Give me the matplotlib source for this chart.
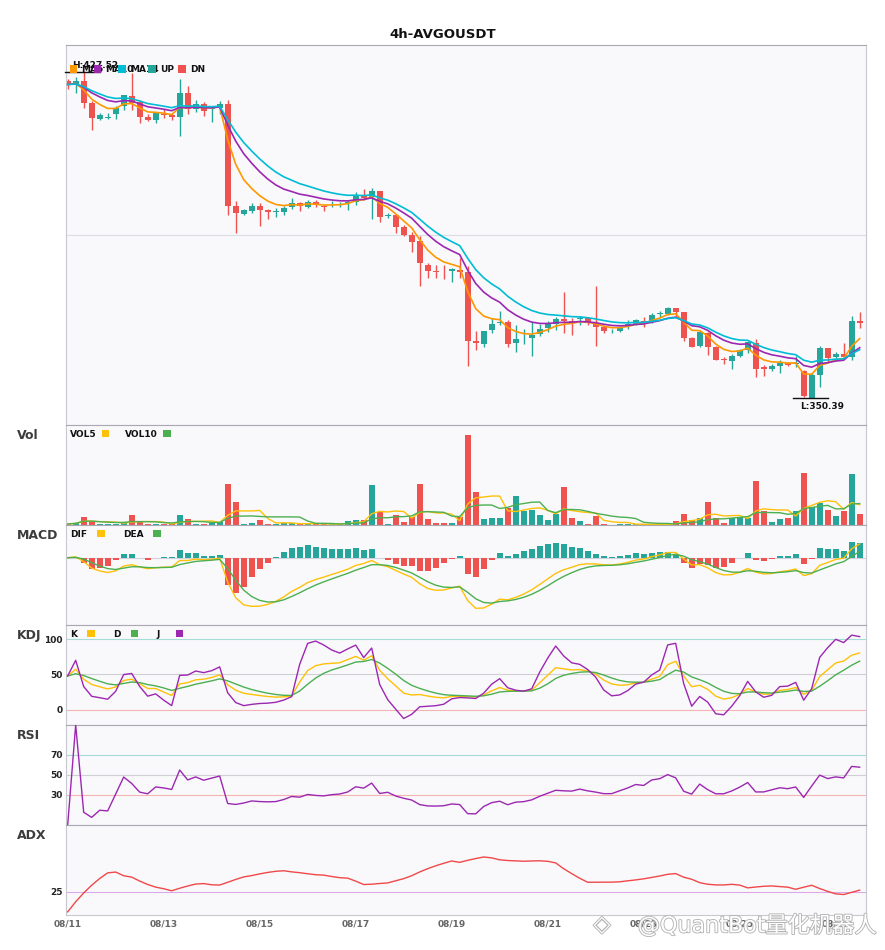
import numpy as np
import pandas as pd
import matplotlib
matplotlib.use("Agg")
import matplotlib.pyplot as plt
from matplotlib.patches import Rectangle
import matplotlib.patheffects as pe

plt.rcParams['font.family'] = ['DejaVu Sans', 'Noto Sans CJK SC']

title = "4h-AVGOUSDT"
times = pd.date_range("2025-08-11 00:00", periods=100, freq="4h")

opens = [425.3, 424.5, 425.3, 420.2, 416.3, 416.6, 417.4, 419.4, 421.8, 420.4,
         416.9, 416.1, 417.6, 417.3, 416.9, 422.6, 418.6, 419.8, 418.6, 418.9,
         419.9, 395.8, 393.9, 394.6, 395.7, 394.8, 394.3, 394.3, 395.4, 396.4,
         395.6, 396.8, 395.8, 395.9, 396.0, 396.4, 396.8, 398.4, 397.9, 399.3,
         393.3, 393.6, 390.8, 388.9, 387.5, 381.9, 380.4, 380.4, 380.3, 380.6,
         380.2, 363.8, 363.2, 366.3, 368.0, 368.2, 363.4, 364.4, 364.6, 365.4,
         366.8, 367.8, 369.0, 368.6, 369.0, 369.2, 367.8, 367.2, 366.1, 366.2,
         367.6, 367.8, 368.6, 368.4, 370.1, 370.1, 371.7, 370.6, 364.4, 362.6,
         365.6, 362.3, 359.4, 359.1, 360.3, 361.7, 363.3, 357.7, 357.1, 357.9,
         358.7, 358.3, 356.6, 350.4, 355.8, 362.2, 359.9, 360.8, 360.1, 368.5]
highs = [425.7, 426.2, 427.52, 420.6, 417.7, 417.8, 419.4, 422.0, 427.2, 420.8,
         417.4, 417.8, 418.7, 417.7, 425.7, 424.1, 420.8, 420.4, 419.4, 420.6,
         420.8, 396.9, 395.0, 396.4, 396.4, 395.0, 395.2, 395.7, 397.6, 396.8,
         397.2, 397.2, 396.1, 396.9, 396.8, 397.2, 399.1, 399.8, 400.1, 399.3,
         394.0, 393.6, 391.3, 389.7, 388.6, 382.2, 381.8, 381.8, 381.0, 383.5,
         381.6, 366.2, 366.2, 369.2, 371.0, 368.8, 367.6, 366.6, 368.3, 367.8,
         368.5, 369.6, 375.5, 369.2, 369.7, 369.3, 376.8, 367.2, 366.6, 367.3,
         368.8, 368.9, 369.6, 370.4, 371.0, 371.9, 371.7, 370.6, 364.7, 366.4,
         366.0, 362.6, 359.9, 360.7, 361.8, 363.8, 364.2, 358.1, 358.4, 359.2,
         358.9, 360.3, 357.0, 356.2, 362.6, 362.2, 361.1, 363.4, 369.7, 370.7]
lows = [423.4, 422.4, 418.9, 413.7, 416.0, 416.3, 416.3, 418.5, 418.5, 415.5,
        415.9, 415.5, 416.6, 416.0, 412.3, 417.5, 418.1, 417.1, 415.7, 417.5,
        393.5, 389.4, 393.5, 394.0, 390.9, 392.7, 393.2, 393.6, 395.1, 394.6,
        395.2, 395.4, 394.6, 395.4, 395.6, 394.8, 396.0, 397.2, 392.7, 392.0,
        392.8, 389.3, 388.6, 384.9, 376.9, 378.6, 378.6, 378.5, 377.8, 378.6,
        358.0, 361.7, 362.5, 365.8, 367.6, 362.5, 361.3, 363.0, 360.3, 365.0,
        366.0, 366.4, 365.6, 365.2, 367.6, 367.6, 362.6, 365.6, 365.8, 366.0,
        366.6, 367.6, 367.0, 368.0, 369.6, 370.0, 369.6, 363.9, 362.3, 362.5,
        360.5, 359.3, 358.4, 357.2, 360.1, 361.0, 355.4, 355.5, 356.7, 356.2,
        357.9, 357.7, 350.5, 350.39, 353.0, 358.9, 359.7, 359.7, 359.3, 366.8]
closes = [424.5, 425.3, 420.2, 416.6, 417.3, 416.9, 418.9, 422.0, 420.2, 416.9,
          416.1, 417.7, 417.3, 416.7, 422.6, 418.6, 419.8, 418.3, 419.1, 419.9,
          395.8, 394.0, 394.7, 395.7, 394.8, 394.4, 394.5, 395.3, 396.5, 395.8,
          396.8, 396.0, 395.6, 396.0, 396.2, 396.8, 398.4, 397.7, 399.3, 393.2,
          393.6, 390.8, 388.9, 387.3, 382.2, 380.4, 380.2, 380.3, 380.8, 380.2,
          363.9, 363.3, 366.2, 367.8, 368.4, 363.2, 364.3, 364.5, 365.2, 366.6,
          367.8, 369.0, 368.6, 368.4, 369.1, 368.0, 367.2, 366.2, 366.2, 367.0,
          367.8, 368.8, 368.4, 370.0, 370.4, 371.7, 370.6, 364.4, 362.5, 366.0,
          362.5, 359.3, 359.3, 360.3, 361.7, 363.5, 357.1, 357.1, 357.9, 358.7,
          358.1, 358.7, 350.8, 355.8, 362.2, 359.7, 360.8, 360.1, 368.5, 368.0]
volumes = [1.0, 2.3, 8.0, 4.3, 1.0, 0.5, 0.5, 3.3, 10.0, 2.7,
           0.7, 0.5, 0.5, 1.0, 10.0, 6.0, 0.7, 1.3, 2.3, 2.7,
           41.0, 23.3, 1.0, 2.3, 5.3, 1.3, 0.5, 1.7, 1.7, 1.3,
           1.3, 0.7, 0.7, 0.5, 1.0, 4.3, 5.3, 5.3, 40.3, 13.0,
           1.3, 10.0, 2.7, 7.7, 41.3, 6.3, 2.3, 2.3, 2.3, 7.7,
           90.3, 33.3, 6.3, 7.3, 7.3, 17.0, 29.3, 13.7, 15.3, 10.3,
           5.3, 11.3, 38.3, 7.3, 4.3, 1.3, 9.3, 1.3, 0.3, 0.7,
           1.3, 0.7, 0.7, 0.3, 0.3, 0.7, 4.3, 11.3, 5.3, 7.3,
           22.7, 7.3, 2.3, 7.3, 8.3, 7.3, 44.3, 13.7, 3.3, 6.3,
           7.3, 14.3, 52.3, 17.7, 21.7, 15.3, 9.3, 14.3, 51.3, 11.3]

ma_periods = [5, 10, 14]
ma_colors = ['#ff9800', '#9c27b0', '#00bcd4']
UP, DN = '#26a69a', '#ef5350'
YEL, GRN, PUR = '#ffc107', '#4caf50', '#9c27b0'

o = np.array(opens); h = np.array(highs); l = np.array(lows); c = np.array(closes)
v = np.array(volumes)
n = len(c)
xs = np.arange(n)
close = pd.Series(c)
up_mask = c >= o
colors = np.where(up_mask, UP, DN)

# ---------- indicators (derived from the OHLCV lists) ----------
mas = [close.ewm(span=p, adjust=False).mean() for p in ma_periods]
vol = pd.Series(v)
vol5 = vol.rolling(5, min_periods=1).mean()
vol10 = vol.rolling(10, min_periods=1).mean()

dif = close.ewm(span=6, adjust=False).mean() - close.ewm(span=13, adjust=False).mean()
dea = dif.ewm(span=4, adjust=False).mean()
hist = 2 * (dif - dea)

low_n = pd.Series(l).rolling(9, min_periods=1).min()
high_n = pd.Series(h).rolling(9, min_periods=1).max()
rsv = ((close - low_n) / (high_n - low_n) * 100).fillna(50)
K = rsv.ewm(com=2, adjust=False).mean()
D = K.ewm(com=2, adjust=False).mean()
J = 3 * K - 2 * D

diff = close.diff()
gain = diff.clip(lower=0)
loss = -diff.clip(upper=0)
ag = gain.ewm(com=13, adjust=True).mean()
al = loss.ewm(com=13, adjust=True).mean()
rsi = (100 - 100 / (1 + ag / al)).fillna(0)

hs, ls = pd.Series(h), pd.Series(l)
prev_c = close.shift(1)
tr = pd.concat([hs - ls, (hs - prev_c).abs(), (ls - prev_c).abs()], axis=1).max(axis=1)
upm = hs.diff(); dnm = -ls.diff()
pdm = pd.Series(np.where((upm > dnm) & (upm > 0), upm, 0.0))
mdm = pd.Series(np.where((dnm > upm) & (dnm > 0), dnm, 0.0))
ADX_P = 8
atr = tr.ewm(alpha=1 / ADX_P, adjust=False).mean()
pdi = 100 * pdm.ewm(alpha=1 / ADX_P, adjust=False).mean() / atr
mdi = 100 * mdm.ewm(alpha=1 / ADX_P, adjust=False).mean() / atr
dx = (100 * (pdi - mdi).abs() / (pdi + mdi)).fillna(0)
adx = dx.ewm(alpha=1 / ADX_P, adjust=False).mean()

# ---------- layout ----------
W, H = 885, 950
L_PX, R_PX = 66, 866
fig = plt.figure(figsize=(W / 100, H / 100), dpi=100)
fig.patch.set_facecolor('white')


def add_panel(top, bottom):
    ax = fig.add_axes([L_PX / W, 1 - bottom / H, (R_PX - L_PX) / W, (bottom - top) / H])
    ax.set_facecolor('#f9f9fc')
    for s in ax.spines.values():
        s.set_color('#c8c8d0'); s.set_linewidth(0.8)
    ax.spines['top'].set_color('#a9a9b1')
    ax.set_xlim(-0.21, n - 0.21)
    ax.set_xticks([]); ax.set_yticks([])
    ax.tick_params(length=0)
    ax._pxbox = (top, bottom)
    return ax


def sq(ax, x_px, yc_px, color, z):
    top, bottom = ax._pxbox
    hh = bottom - top
    ax.add_patch(Rectangle(((x_px - L_PX) / 800, (bottom - yc_px - 3.65) / hh), 7.3 / 800, 7.3 / hh,
                           transform=ax.transAxes, facecolor=color, edgecolor='none',
                           zorder=z, clip_on=False))


def txt(ax, x_px, yb_px, s, z):
    top, bottom = ax._pxbox
    hh = bottom - top
    ax.text((x_px - L_PX) / 800, (bottom - yb_px) / hh, s, transform=ax.transAxes,
            fontsize=6.5, fontweight='bold', color='#111111', ha='left', va='baseline', zorder=z)


def ylabels(ax, ticks):
    ax.set_yticks(ticks)
    ax.set_yticklabels([str(t) for t in ticks])
    ax.tick_params(axis='y', length=0, pad=2.5, labelsize=6.5, labelcolor='#222222')
    for lb in ax.get_yticklabels():
        lb.set_fontweight('bold')


ax_p = add_panel(45, 425)
ax_v = add_panel(425, 525)
ax_m = add_panel(525, 625)
ax_k = add_panel(625, 725)
ax_r = add_panel(725, 825)
ax_a = add_panel(825, 915)

# ---------- price ----------
ax_p.vlines(xs, l, h, colors=colors, lw=1.0, zorder=2)
ax_p.bar(xs, np.maximum(np.abs(c - o), 0.15), bottom=np.minimum(o, c), width=0.72,
         color=colors, linewidth=0, zorder=2.5)
for m, col in zip(mas, ma_colors):
    ax_p.plot(xs, m, color=col, lw=1.2, zorder=3)
rng = h.max() - l.min()
p_lo, p_hi = l.min() - 0.0838 * rng, h.max() + 0.082 * rng
ax_p.set_ylim(p_lo, p_hi)
ax_p.axhline((p_lo + p_hi) / 2, color='#dcdce4', lw=0.8, zorder=1)

ih, il = int(np.argmax(h)), int(np.argmin(l))
ax_p.plot([ih - 2.3, ih + 2.0], [h[ih], h[ih]], color='#111111', lw=1.0, zorder=6, clip_on=False)
ax_p.annotate(f"H:{h[ih]:.2f}", (ih - 1.4, h[ih]), xytext=(0, 2.6), textcoords='offset points',
              fontsize=6.5, fontweight='bold', color='#111111', ha='left', va='baseline', zorder=6)
ax_p.plot([il - 2.3, il + 2.0], [l[il], l[il]], color='#111111', lw=1.0, zorder=6, clip_on=False)
ax_p.annotate(f"L:{l[il]:.2f}", (il - 1.4, l[il]), xytext=(0, -3.0), textcoords='offset points',
              fontsize=6.5, fontweight='bold', color='#111111', ha='left', va='top', zorder=6)

leg_items = [(f"MA{p}", col) for p, col in zip(ma_periods, ma_colors)] + [("UP", UP), ("DN", DN)]
leg_x = [70, 94, 118.3, 148.3, 178.3]
for k, ((lab, col), xp) in enumerate(zip(leg_items, leg_x)):
    txt(ax_p, xp + 11.5, 72.3, lab, 20 + 2 * k)
    sq(ax_p, xp, 69, col, 21 + 2 * k)

# ---------- volume ----------
ax_v.bar(xs, v, width=0.72, color=colors, linewidth=0, zorder=2)
ax_v.plot(xs, vol5, color=YEL, lw=1.0, zorder=3)
ax_v.plot(xs, vol10, color=GRN, lw=1.0, zorder=3)
ax_v.set_ylim(0, v.max() * 1.107)
txt(ax_v, 70, 437, "VOL5", 20); sq(ax_v, 101.7, 433.7, YEL, 21)
txt(ax_v, 125, 437, "VOL10", 20); sq(ax_v, 163.3, 433.7, GRN, 21)

# ---------- MACD ----------
ax_m.axhline(0, color='#d2d2da', lw=0.8, zorder=1)
ax_m.bar(xs, hist, width=0.72, color=np.where(hist >= 0, UP, DN), linewidth=0, zorder=2)
ax_m.plot(xs, dif, color=YEL, lw=1.0, zorder=3)
ax_m.plot(xs, dea, color=GRN, lw=1.0, zorder=3)
mn = min(dif.min(), dea.min(), hist.min())
ax_m.set_ylim(mn * 67.3 / 50.6, -mn * 32.7 / 50.6)
txt(ax_m, 70, 537, "DIF", 20); sq(ax_m, 97.3, 533.7, YEL, 21)
txt(ax_m, 123.3, 537, "DEA", 20); sq(ax_m, 153.3, 533.7, GRN, 21)

# ---------- KDJ ----------
ax_k.axhline(100, color='#a6dcd6', lw=0.8, zorder=1)
ax_k.axhline(50, color='#cfcfd4', lw=0.8, zorder=1)
ax_k.axhline(0, color='#f5b3b3', lw=0.8, zorder=1)
ax_k.plot(xs, K, color=YEL, lw=1.0, zorder=3)
ax_k.plot(xs, D, color=GRN, lw=1.0, zorder=3)
ax_k.plot(xs, J, color=PUR, lw=1.0, zorder=3)
ax_k.set_ylim(-21.6, 120)
ylabels(ax_k, [0, 50, 100])
txt(ax_k, 70, 636.6, "K", 20); sq(ax_k, 87.3, 633.3, YEL, 21)
txt(ax_k, 113.3, 636.6, "D", 20); sq(ax_k, 131, 633.3, GRN, 21)
txt(ax_k, 156, 636.6, "J", 20); sq(ax_k, 175.7, 633.3, PUR, 21)

# ---------- RSI ----------
ax_r.axhline(70, color='#a6dcd6', lw=0.8, zorder=1)
ax_r.axhline(50, color='#cfcfd4', lw=0.8, zorder=1)
ax_r.axhline(30, color='#f5b3b3', lw=0.8, zorder=1)
ax_r.plot(xs, rsi, color=PUR, lw=1.0, zorder=3)
ax_r.set_ylim(0, 100)
ylabels(ax_r, [30, 50, 70])

# ---------- ADX ----------
ax_a.axhline(25, color='#dba8e8', lw=0.8, zorder=1)
ax_a.plot(xs, adx, color='#f04848', lw=1.0, zorder=3)
amax = adx[20:].max()
span = (amax - 25) / (34.7 / 90)
a_lo = 25 - 23.3 / 90 * span
ax_a.set_ylim(a_lo, a_lo + span)
ylabels(ax_a, [25])
tick_idx = xs[::12]
ax_a.set_xticks(tick_idx)
ax_a.set_xticklabels([times[i].strftime('%m/%d') for i in tick_idx])
ax_a.tick_params(axis='x', length=0, pad=3, labelsize=6.5, labelcolor='#666666')
for lb in ax_a.get_xticklabels():
    lb.set_fontweight('bold')

# ---------- texts ----------
fig.text(0.5, 1 - 34 / H, title, ha='center', va='center', fontsize=9.5, fontweight='bold', color='#111111')
for lab, yb in [("Vol", 439.3), ("MACD", 539), ("KDJ", 639.3), ("RSI", 739), ("ADX", 839)]:
    fig.text(17 / W, 1 - yb / H, lab, ha='left', va='baseline', fontsize=9, fontweight='bold', color='#3c3c3c')

wm_fx = [pe.withStroke(linewidth=1.3, foreground='#b4b4b4')]
fig.text(877 / W, 1 - 925 / H, "@QuantBot量化机器人", ha='right', va='center', fontsize=16,
         color='white', path_effects=wm_fx, zorder=100)
fig.text(602 / W, 1 - 925 / H, "◈", ha='center', va='center', fontsize=16,
         color='white', path_effects=wm_fx, zorder=100)

fig.savefig("out.png", dpi=100)
